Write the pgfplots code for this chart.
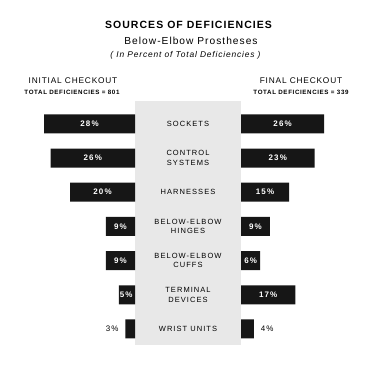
\documentclass[border=0pt]{standalone}
\usepackage{pgfplots}
\pgfplotsset{compat=1.18}
\usepackage{fontspec}
\setmainfont{Liberation Sans}
\newfontfamily\spfont[LetterSpace=10]{Liberation Sans}
\newfontfamily\spwide[LetterSpace=14]{Liberation Sans}
\definecolor{barblack}{HTML}{161616}
\definecolor{panel}{HTML}{E8E8E8}
\begin{document}
\begin{tikzpicture}[x=1pt,y=1pt]
\path[use as bounding box] (0pt,0pt) rectangle (372pt,368pt);
% titles
\node[anchor=base] at (188.5pt,340pt) {\spfont\fontsize{10.5}{12}\selectfont\bfseries SOURCES OF DEFICIENCIES};
\node[anchor=base] at (191pt,324pt) {\spfont\fontsize{10.2}{12}\selectfont Below-Elbow Prostheses};
\node[anchor=base] at (185.5pt,311pt) {\spfont\fontsize{8.4}{10}\selectfont\itshape ( In Percent of Total Deficiencies )};
\node[anchor=base] at (73pt,285pt) {\spfont\fontsize{8.3}{9}\selectfont INITIAL CHECKOUT};
\node[anchor=base] at (72pt,274pt) {\spfont\fontsize{6.2}{7}\selectfont\bfseries TOTAL DEFICIENCIES = 801};
\node[anchor=base] at (301pt,285pt) {\spfont\fontsize{8.3}{9}\selectfont FINAL CHECKOUT};
\node[anchor=base] at (301pt,274pt) {\spfont\fontsize{6.2}{7}\selectfont\bfseries TOTAL DEFICIENCIES = 339};
% central panel
\fill[panel] (134.5pt,23pt) rectangle (241pt,267pt);
% left axis: initial checkout
\begin{axis}[
  at={(135pt,22pt)}, anchor=south east,
  scale only axis, width=97.5pt, height=239.2pt,
  xmin=0, xmax=30, x dir=reverse,
  ymin=-0.5, ymax=6.5, y dir=reverse,
  hide axis, clip=false]
\addplot[xbar, bar width=19pt, fill=barblack, draw=none] coordinates {
  (28,0) (26,1) (20,2) (9,3) (9,4) (5,5) (3,6)};
\addplot[draw=none, mark=none, nodes near coords, point meta=explicit symbolic,
  every node near coord/.style={anchor=center, text=white, font=\spwide\fontsize{8}{9}\selectfont\bfseries}]
  coordinates {(14,0) [28\%] (13,1) [26\%] (10,2) [20\%] (4.5,3) [9\%] (4.5,4) [9\%] (2.7,5) [5\%]};
\addplot[draw=none, mark=none, nodes near coords, point meta=explicit symbolic,
  every node near coord/.style={anchor=center, text=black, font=\spwide\fontsize{8}{9}\selectfont}]
  coordinates {(7,6) [3\%]};
\end{axis}
% right axis: final checkout
\begin{axis}[
  at={(241pt,22pt)}, anchor=south west,
  scale only axis, width=96pt, height=239.2pt,
  xmin=0, xmax=30,
  ymin=-0.5, ymax=6.5, y dir=reverse,
  axis line style={draw=none}, tick style={draw=none},
  xtick=\empty, ytick={0,1,2,3,4,5,6},
  yticklabels={SOCKETS,{CONTROL\\SYSTEMS},HARNESSES,{BELOW-ELBOW\\HINGES},{BELOW-ELBOW\\CUFFS},{TERMINAL\\DEVICES},WRIST UNITS},
  yticklabel style={anchor=center, xshift=-53pt, align=center, font=\spwide\fontsize{7.5}{9.5}\selectfont},
  clip=false]
\addplot[xbar, bar width=19pt, fill=barblack, draw=none] coordinates {
  (26,0) (23,1) (15,2) (9,3) (6,4) (17,5) (4,6)};
\addplot[draw=none, mark=none, nodes near coords, point meta=explicit symbolic,
  every node near coord/.style={anchor=center, text=white, font=\spwide\fontsize{8}{9}\selectfont\bfseries}]
  coordinates {(13,0) [26\%] (11.5,1) [23\%] (7.5,2) [15\%] (4.5,3) [9\%] (3,4) [6\%] (8.5,5) [17\%]};
\addplot[draw=none, mark=none, nodes near coords, point meta=explicit symbolic,
  every node near coord/.style={anchor=center, text=black, font=\spwide\fontsize{8}{9}\selectfont}]
  coordinates {(8.2,6) [4\%]};
\end{axis}
\end{tikzpicture}
\end{document}
